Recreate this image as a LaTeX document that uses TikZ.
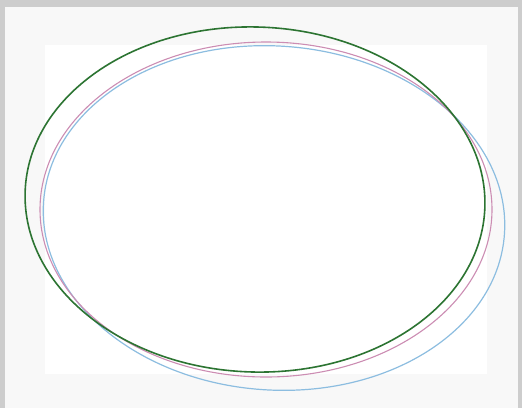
\documentclass[tikz,border=0pt]{standalone}
\begin{document}
\begin{tikzpicture}[x=1pt,y=-1pt,
  ring/.style={line width=#1},
]
\definecolor{framegray}{HTML}{CDCDCD}
\definecolor{panel}{HTML}{F8F8F8}
\definecolor{ggreen}{HTML}{2C7432}
\definecolor{gpink}{HTML}{CC8DB3}
\definecolor{gblue}{HTML}{8CBDE0}
\useasboundingbox (0,0) rectangle (522,408);
\fill[framegray] (0,0) rectangle (522,408);
\fill[panel] (5,7) rectangle (518,408);
\fill[white] (45,45) rectangle (487,374);
\draw[gblue, line width=1.2pt, rotate around={-4:(274,218)}] (274,218) ellipse [x radius=231, y radius=172];
\draw[gpink, line width=1.1pt] (266,209.5) ellipse [x radius=226, y radius=167.5];
\draw[ggreen, line width=1.6pt, rotate around={-2:(255,199.5)}] (255,199.5) ellipse [x radius=230, y radius=172.5];
\end{tikzpicture}
\end{document}
